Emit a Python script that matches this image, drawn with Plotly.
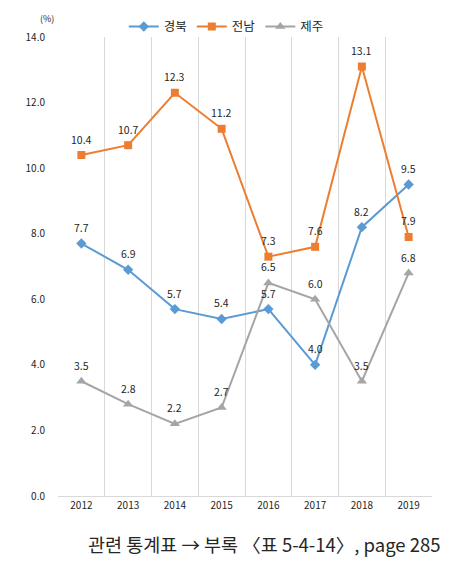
import plotly.graph_objects as go

years = [2012, 2013, 2014, 2015, 2016, 2017, 2018, 2019]
gyeongbuk = [7.7, 6.9, 5.7, 5.4, 5.7, 4.0, 8.2, 9.5]
jeonnam = [10.4, 10.7, 12.3, 11.2, 7.3, 7.6, 13.1, 7.9]
jeju = [3.5, 2.8, 2.2, 2.7, 6.5, 6.0, 3.5, 6.8]
series_names = ["경북", "전남", "제주"]
y_ticks = [0, 2, 4, 6, 8, 10, 12, 14]

FONT = "Noto Sans CJK KR"
colors = ["#5B9BD5", "#ED7D31", "#A5A5A5"]
symbols = ["diamond", "square", "triangle-up"]
sizes = [8, 8, 9]

fig = go.Figure()
annots = []
for name, vals, c, s, sz in zip(series_names, [gyeongbuk, jeonnam, jeju], colors, symbols, sizes):
    fig.add_trace(go.Scatter(
        x=years, y=vals, name=name,
        mode="lines+markers",
        line=dict(color=c, width=2),
        marker=dict(color=c, symbol=s, size=sz),
        cliponaxis=False,
    ))
    for x, v in zip(years, vals):
        annots.append(dict(x=x, y=v, xref="x", yref="y", text=f"{v:.1f}",
                           showarrow=False, yshift=16, xanchor="center", yanchor="middle",
                           font=dict(family=FONT, size=10.5, color="#262626")))

annots += [
    dict(text="(%)", xref="paper", yref="paper", x=-0.03, y=1.04,
         xanchor="center", yanchor="middle", showarrow=False,
         font=dict(family=FONT, size=9, color="#262626")),
    dict(text="관련 통계표 → 부록 〈표 5-4-14〉, page 285", xref="paper", yref="paper",
         x=1.03, y=-0.105, xanchor="right", yanchor="middle", showarrow=False,
         font=dict(family=FONT, size=18.5, color="#262626")),
]

fig.update_layout(
    width=462, height=563,
    margin=dict(l=58, r=30, t=37, b=67, autoexpand=False),
    paper_bgcolor="white", plot_bgcolor="white",
    font=dict(family=FONT, size=10, color="#262626"),
    showlegend=True,
    legend=dict(orientation="h", x=0.45, xanchor="center", y=1.022, yanchor="middle",
                font=dict(family=FONT, size=12.5, color="#262626"),
                traceorder="normal", tracegroupgap=0,
                bgcolor="rgba(0,0,0,0)"),
    xaxis=dict(
        range=[2011.5, 2019.5],
        tickmode="array", tickvals=years, ticktext=[str(y) for y in years],
        showgrid=False, zeroline=False,
        showline=True, linecolor="#D9D9D9", linewidth=1,
        ticks="", tickfont=dict(family=FONT, size=10, color="#262626"),
        minor=dict(tickmode="array", tickvals=[y - 0.5 for y in years],
                   showgrid=True, gridcolor="#D9D9D9", gridwidth=1, ticks=""),
    ),
    yaxis=dict(
        range=[0, 14], tickmode="array", tickvals=y_ticks,
        tickformat=".1f", showgrid=False, zeroline=False, showline=False,
        ticks="", ticklabelstandoff=12,
        tickfont=dict(family=FONT, size=10, color="#262626"),
    ),
    annotations=annots,
)

fig.write_html("out.html", config={"displayModeBar": False},
               post_script="document.body.style.margin='0';document.body.style.overflow='hidden';")
